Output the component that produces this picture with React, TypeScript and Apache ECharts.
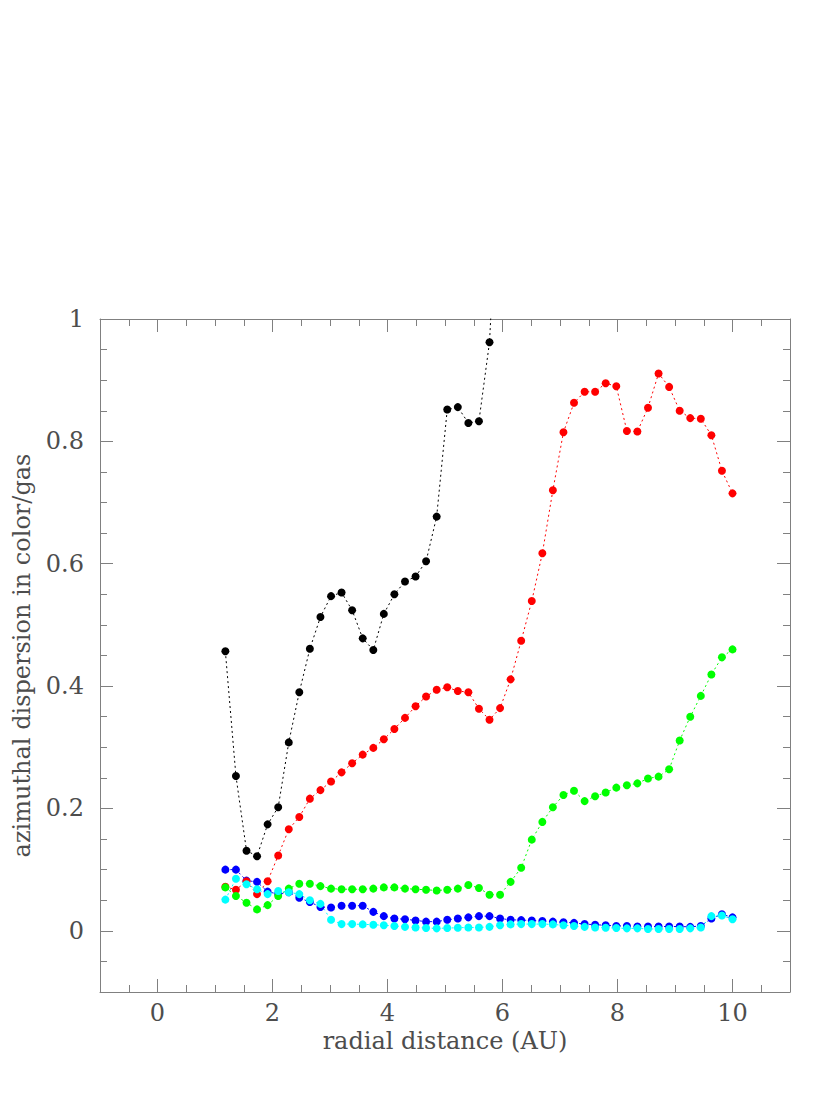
import React, { useEffect, useRef } from "react";
import * as echarts from "echarts";

// radial distance (AU) of each sample
const radius = [
  1.180, 1.364, 1.548, 1.731, 1.915, 2.099, 2.283, 2.466, 2.650, 2.834,
  3.018, 3.201, 3.385, 3.569, 3.753, 3.936, 4.120, 4.304, 4.488, 4.671,
  4.855, 5.039, 5.223, 5.406, 5.590, 5.774, 5.958, 6.141, 6.325, 6.509,
  6.693, 6.876, 7.060, 7.244, 7.428, 7.611, 7.795, 7.979, 8.163, 8.346,
  8.530, 8.714, 8.898, 9.081, 9.265, 9.449, 9.633, 9.816, 10.000,
];

const blackVals = [
  0.457, 0.253, 0.131, 0.122, 0.174, 0.202, 0.308, 0.390, 0.461, 0.513,
  0.547, 0.553, 0.524, 0.478, 0.459, 0.518, 0.550, 0.571, 0.579, 0.604,
  0.677, 0.852, 0.856, 0.830, 0.833, 0.962, 1.300,
];

const redVals = [
  0.072, 0.067, 0.081, 0.060, 0.081, 0.123, 0.166, 0.186, 0.216, 0.230,
  0.244, 0.259, 0.274, 0.288, 0.299, 0.313, 0.330, 0.348, 0.367, 0.383,
  0.394, 0.398, 0.392, 0.390, 0.363, 0.345, 0.364, 0.411, 0.474, 0.539,
  0.617, 0.720, 0.815, 0.863, 0.881, 0.881, 0.895, 0.890, 0.817, 0.816,
  0.855, 0.911, 0.889, 0.850, 0.838, 0.837, 0.810, 0.752, 0.715,
];

const greenVals = [
  0.071, 0.057, 0.046, 0.035, 0.042, 0.057, 0.069, 0.077, 0.077, 0.073,
  0.069, 0.068, 0.068, 0.068, 0.069, 0.071, 0.071, 0.069, 0.068, 0.067,
  0.066, 0.067, 0.069, 0.075, 0.070, 0.059, 0.059, 0.080, 0.103, 0.149,
  0.178, 0.202, 0.222, 0.229, 0.212, 0.220, 0.226, 0.234, 0.238, 0.241,
  0.249, 0.252, 0.264, 0.311, 0.350, 0.384, 0.419, 0.447, 0.460,
];

const blueVals = [
  0.100, 0.100, 0.082, 0.080, 0.064, 0.060, 0.063, 0.054, 0.047, 0.039,
  0.038, 0.041, 0.041, 0.041, 0.031, 0.024, 0.020, 0.019, 0.017, 0.015,
  0.015, 0.018, 0.020, 0.022, 0.024, 0.024, 0.020, 0.018, 0.0175, 0.017,
  0.016, 0.015, 0.014, 0.013, 0.011, 0.010, 0.009, 0.008, 0.008, 0.007,
  0.007, 0.007, 0.007, 0.007, 0.0065, 0.008, 0.020, 0.027, 0.022,
];

const cyanVals = [
  0.051, 0.085, 0.076, 0.068, 0.060, 0.065, 0.063, 0.060, 0.050, 0.044,
  0.018, 0.011, 0.011, 0.0105, 0.010, 0.009, 0.008, 0.0065, 0.0055, 0.0045,
  0.004, 0.0045, 0.005, 0.0055, 0.0055, 0.0065, 0.009, 0.0105, 0.011, 0.011,
  0.011, 0.0105, 0.009, 0.008, 0.0065, 0.0055, 0.005, 0.0045, 0.004, 0.004,
  0.003, 0.003, 0.003, 0.003, 0.004, 0.0055, 0.024, 0.025, 0.019,
];

const xTitle = "radial distance (AU)";
const yTitle = "azimuthal dispersion in color/gas";

export default function App() {
  const ref = useRef<HTMLDivElement>(null);

  useEffect(() => {
    document.body.style.margin = "0";
    const chart = echarts.init(ref.current!, null, { renderer: "svg" });
    const frame = "#808080";
    const font = "DejaVu Serif";
    const textColor = "#4d4d4d";
    const fs = 24;

    const mk = (name: string, vals: number[], color: string) => ({
      name,
      type: "line",
      xAxisIndex: 0,
      yAxisIndex: 0,
      data: vals.map((v, i) => [radius[i], v]),
      symbol: "circle",
      symbolSize: 8,
      showSymbol: true,
      showAllSymbol: true,
      clip: true,
      silent: true,
      itemStyle: { color },
      lineStyle: { color, width: 1, type: [2, 3] },
    });

    const minorX = (pos: string, extra: any = {}) => ({
      gridIndex: 0,
      type: "value",
      min: -1,
      max: 11,
      interval: 0.5,
      position: pos,
      axisLine: { show: true, onZero: false, lineStyle: { color: frame, width: 1 } },
      axisTick: { show: true, inside: true, length: 7, lineStyle: { color: frame, width: 1 } },
      axisLabel: { show: false },
      splitLine: { show: false },
      ...extra,
    });
    const minorY = (pos: string, extra: any = {}) => ({
      gridIndex: 0,
      type: "value",
      min: -0.1,
      max: 1,
      interval: 0.05,
      position: pos,
      axisLine: { show: true, onZero: false, lineStyle: { color: frame, width: 1 } },
      axisTick: { show: true, inside: true, length: 7, lineStyle: { color: frame, width: 1 } },
      axisLabel: { show: false },
      splitLine: { show: false },
      ...extra,
    });
    const majorX = (pos: string, labels: boolean) => ({
      gridIndex: 1,
      type: "value",
      min: 0,
      max: 10,
      interval: 2,
      position: pos,
      axisLine: { show: false, onZero: false },
      axisTick: { show: true, inside: true, length: 13, lineStyle: { color: frame, width: 1 } },
      axisLabel: { show: labels, margin: 9, fontFamily: font, fontSize: fs, color: textColor },
      splitLine: { show: false },
    });
    const majorY = (pos: string, labels: boolean) => ({
      gridIndex: 2,
      type: "value",
      min: 0,
      max: 1,
      interval: 0.2,
      position: pos,
      axisLine: { show: false, onZero: false },
      axisTick: { show: true, inside: true, length: 13, lineStyle: { color: frame, width: 1 } },
      axisLabel: { show: labels, margin: 16, fontFamily: font, fontSize: fs, color: textColor },
      splitLine: { show: false },
    });

    chart.setOption({
      animation: false,
      backgroundColor: "#ffffff",
      grid: [
        { left: 100, top: 319, width: 690, height: 673, containLabel: false },
        { left: 157.5, top: 319, width: 575, height: 673, containLabel: false },
        { left: 100, top: 319, width: 690, height: 611.818, containLabel: false },
      ],
      xAxis: [
        minorX("bottom", {
          name: xTitle,
          nameLocation: "middle",
          nameGap: 37,
          nameTextStyle: { fontFamily: font, fontSize: fs, color: textColor },
        }),
        minorX("top"),
        majorX("bottom", true),
        majorX("top", false),
        { gridIndex: 2, type: "value", min: 0, max: 1, show: false },
      ],
      yAxis: [
        minorY("left", {
          name: yTitle,
          nameLocation: "middle",
          nameGap: 66,
          nameRotate: 90,
          nameTextStyle: { fontFamily: font, fontSize: fs, color: textColor },
        }),
        minorY("right"),
        { gridIndex: 1, type: "value", min: 0, max: 1, show: false },
        majorY("left", true),
        majorY("right", false),
      ],
      series: [
        mk("black", blackVals, "#000000"),
        mk("blue", blueVals, "#0000ff"),
        mk("red", redVals, "#ff0000"),
        mk("green", greenVals, "#00ff00"),
        mk("cyan", cyanVals, "#00ffff"),
      ],
    });

    return () => chart.dispose();
  }, []);

  return <div ref={ref} style={{ width: 830, height: 1111 }} />;
}
